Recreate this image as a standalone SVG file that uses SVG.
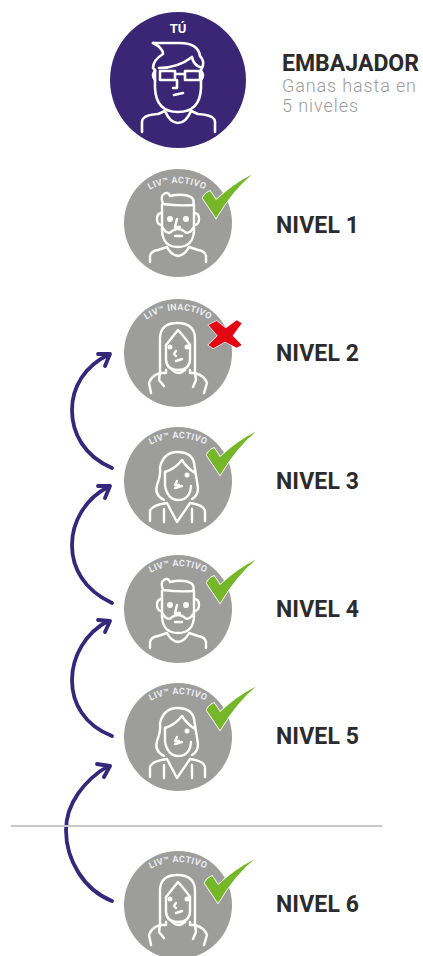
<svg xmlns="http://www.w3.org/2000/svg" width="423" height="956" viewBox="0 0 423 956">
<style>
.gray{fill:#9d9d9c}
.purple{fill:#3a2674}
.ln{fill:none;stroke:#fff;stroke-width:2.4;stroke-linecap:round;stroke-linejoin:round}
.arc{fill:none;stroke:#35277a;stroke-width:3.8;stroke-linecap:round;stroke-linejoin:round}
.lvl{font-family:"Roboto","Liberation Sans",sans-serif;font-weight:700;font-size:23px;fill:#2b2b2b}
.sub{font-family:"Roboto","Liberation Sans",sans-serif;font-weight:300;font-size:18px;fill:#9d9d9c}
.cap{font-family:"Roboto","Liberation Sans",sans-serif;font-weight:700;font-size:9px;letter-spacing:.35px;fill:#ececec}
.ok{fill:#76b72a;stroke:#fff;stroke-width:1.5;paint-order:stroke}
</style>
<defs>
<path id="capA" d="M-42.4,-42.4A60,60 0 0 1 42.4,-42.4"/>
<path id="capI" d="M-40,-39.2A56,56 0 0 1 40,-39.2"/>
<path id="check" d="M-13.5,-20Q-11,-25 -6,-27Q-3,-23 0,-18Q17,-34 36,-43.5Q17,-28 0,0Q-8,-12 -13.5,-20Z"/>
<g id="beard" class="ln">
<path d="M-15,-19Q-18,-27 -14,-29Q-10,-32 -8,-27Q5,-30 13,-26Q17,-23 15,-18Q0,-17 -15,-19Z"/>
<path d="M-16,-18V8Q-15,24 0,24Q15,24 16,8V-18"/>
<path d="M-16,-10Q-21,-10 -21,-4Q-21,2 -16,2M16,-10Q21,-10 21,-4Q21,2 16,2"/>
<path d="M-16,4Q-10,13 -6,8Q0,4 6,8Q10,13 16,4"/>
<path d="M-3,13H4M-1,-4L-3,4H2"/>
<path d="M-28,39V33Q-27,28 -20,27L-11,24Q-7,32 0,33Q7,32 11,24L20,27Q27,28 28,33V39"/>
</g>
<g id="eyes"><circle cx="-8" cy="-4" r="3" fill="#fff"/><circle cx="8" cy="-4" r="3" fill="#fff"/></g>
<g id="longhair" class="ln">
<path d="M-18,20V-14Q-18,-30 -1,-30Q17,-30 17,-14V20"/>
<path d="M-12,-8L0,-23Q8,-14 12,-8"/>
<path d="M-12,-8V6Q-12,17 0,17Q12,17 12,6V-8"/>
<path d="M-2,-2L-4,1L-2,3M-2,8L4,6"/>
<path d="M-6,17Q0,23 7,17"/>
<path d="M-18,20H-12V17M17,20H12V17"/>
<path d="M-18,20Q-27,23 -29,30L-27,40M-18,20L-19,27L-14,33M17,20Q27,23 29,30L26,40M17,20L18,27L15,34"/>
</g>
<g id="wavy" class="ln">
<path d="M-14,19Q-24,14 -21,4Q-17,-6 -18,-14Q-14,-29 -1,-29Q14,-29 16,-18Q18,-6 20,7Q20,15 14,18"/>
<path d="M-13,-9Q-3,-12 4,-21Q9,-13 17,-8"/>
<path d="M-13,-9V5Q-10,19 0,19Q12,19 13,5"/>
<path d="M-1,0L-3,4H1M-3,7L4,5"/>
<path d="M-28,40V30Q-26,24 -11,22L-1,41L12,22Q26,24 27,30V40M-14,28V41M14,28V41"/>
</g>
</defs>

<g id="connectors">
<path class="arc" d="M112,468C84,456 72,433 72,410C72,387 85,366 108,355M98,354L110,354L105,366"/>
<path class="arc" d="M112,603C84,590 72,568 72,545C72,522 85,499 108,487M98,486L110,486L105,498"/>
<path class="arc" d="M112,736C84,725 72,703 72,680C72,657 85,633 108,621M98,620L110,621L105,632"/>
<path class="arc" d="M112,901C84,890 66,860 66,830C66,803 85,780 108,766M97,764L110,766L104,777"/>
</g>

<line id="divider" x1="11" y1="826" x2="382" y2="826" stroke="#c8c8c8" stroke-width="2"/>

<g id="embajador">
<circle class="purple" cx="178" cy="80" r="68"/>
<text x="178" y="33" text-anchor="middle" font-family="Roboto,'Liberation Sans',sans-serif" font-weight="700" font-size="13" fill="#fff">TÚ</text>
<g class="ln" transform="translate(178,80)" style="stroke-width:2.6">
<path d="M-25,-37H2Q20,-37 22,-24Q28,-18 23,-10V8Q22,32 0,32Q-22,32 -23,8V-10"/>
<path d="M-25,-37Q-15,-32 -15,-26Q-25,-20 -25,-12L-23,-10"/>
<path d="M-19,-12Q0,-12 14,-23Q15,-15 24,-12"/>
<path d="M-18,-9H-3V0H-18ZM7,-9H22V0H7ZM-3,-6H7"/>
<path d="M-23,-9Q-27,-5 -23,0M23,-9Q27,-5 23,0"/>
<path d="M-1,0V8H-5M-4,15L5,13"/>
<path d="M-36,52V42Q-36,35 -20,34L-13,31Q-8,43 0,43Q8,43 13,31L20,34Q37,35 37,42V52"/>
</g>
<text class="lvl" x="282" y="71" textLength="137" lengthAdjust="spacingAndGlyphs">EMBAJADOR</text>
<text class="sub" x="282" y="92" textLength="134">Ganas hasta en</text>
<text class="sub" x="282" y="112" textLength="76">5 niveles</text>
</g>

<g id="nivel1">
<circle class="gray" cx="178" cy="223" r="54"/>
<use href="#beard" x="178" y="223"/><use href="#eyes" x="178" y="223"/>
<text class="cap" transform="translate(177,243)"><textPath href="#capA" startOffset="50%" text-anchor="middle">LIV™ ACTIVO</textPath></text>
<use class="ok" href="#check" x="216" y="218"/>
<text class="lvl" x="276" y="233" textLength="83">NIVEL 1</text>
</g>

<g id="nivel2">
<circle class="gray" cx="178" cy="353" r="54"/>
<use href="#longhair" x="178" y="353"/><circle cx="170" cy="347" r="2.5" fill="#fff"/><circle cx="187" cy="347" r="2.5" fill="#fff"/>
<text class="cap" transform="translate(178,366)"><textPath href="#capI" startOffset="50%" text-anchor="middle">LIV™ INACTIVO</textPath></text>
<path d="M208.3,325L216.7,321L225.7,328.3L236.7,320.3L241.7,323.3L232.7,335.7L241.7,345L236.7,347.7L225,341.7L213.3,348.3L208.3,345L217.7,335.7Z" fill="#e30613" stroke="#fff" stroke-width="1.2" paint-order="stroke"/>
<text class="lvl" x="276" y="361" textLength="83">NIVEL 2</text>
</g>

<g id="nivel3">
<circle class="gray" cx="178" cy="481" r="54"/>
<use href="#wavy" x="178" y="481"/><circle cx="187" cy="475" r="2.5" fill="#fff"/>
<text class="cap" transform="translate(178,498)"><textPath href="#capA" startOffset="50%" text-anchor="middle">LIV™ ACTIVO</textPath></text>
<use class="ok" href="#check" x="220" y="475"/>
<text class="lvl" x="276" y="489" textLength="83">NIVEL 3</text>
</g>

<g id="nivel4">
<circle class="gray" cx="178" cy="609" r="54"/>
<use href="#beard" x="178" y="609"/><use href="#eyes" x="178" y="609"/>
<text class="cap" transform="translate(178,626)"><textPath href="#capA" startOffset="50%" text-anchor="middle">LIV™ ACTIVO</textPath></text>
<use class="ok" href="#check" x="220" y="603"/>
<text class="lvl" x="276" y="617" textLength="83">NIVEL 4</text>
</g>

<g id="nivel5">
<circle class="gray" cx="178" cy="737" r="54"/>
<use href="#wavy" x="178" y="737"/><circle cx="187" cy="731" r="2.5" fill="#fff"/>
<text class="cap" transform="translate(178,754)"><textPath href="#capA" startOffset="50%" text-anchor="middle">LIV™ ACTIVO</textPath></text>
<use class="ok" href="#check" x="220" y="730"/>
<text class="lvl" x="276" y="744" textLength="83">NIVEL 5</text>
</g>

<g id="nivel6">
<circle class="gray" cx="178" cy="905" r="54"/>
<use href="#longhair" x="178" y="905"/><circle cx="170" cy="899" r="2.5" fill="#fff"/><circle cx="187" cy="899" r="2.5" fill="#fff"/>
<text class="cap" transform="translate(178,922)"><textPath href="#capA" startOffset="50%" text-anchor="middle">LIV™ ACTIVO</textPath></text>
<use class="ok" href="#check" x="218" y="903"/>
<text class="lvl" x="276" y="912" textLength="83">NIVEL 6</text>
</g>
</svg>
